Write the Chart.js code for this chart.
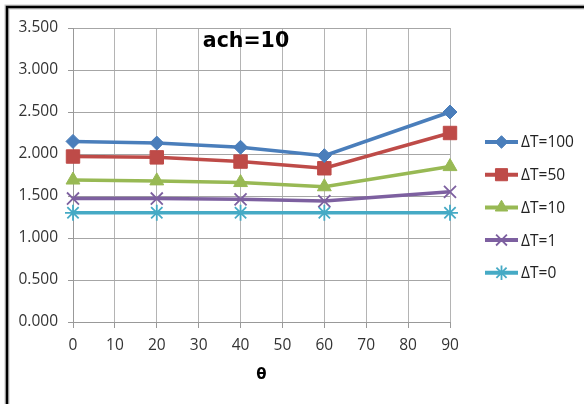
<!DOCTYPE html>
<html>
<head>
<meta charset="utf-8">
<script src="https://cdn.jsdelivr.net/npm/chart.js@4.4.1/dist/chart.umd.min.js"></script>
<style>
  html, body { margin: 0; padding: 0; background: #fff; overflow: hidden; }
  #wrap { width: 584px; height: 404px; }
  canvas { display: block; }
</style>
</head>
<body>
<div id="wrap"><canvas id="achChart"></canvas></div>
<script>
  // data
  const theta = [0, 20, 40, 60, 90];
  const dT100 = [2.15, 2.13, 2.08, 1.98, 2.50];
  const dT50 = [1.97, 1.96, 1.91, 1.83, 2.25];
  const dT10 = [1.69, 1.68, 1.66, 1.61, 1.85];
  const dT1 = [1.47, 1.47, 1.46, 1.44, 1.55];
  const dT0 = [1.30, 1.30, 1.30, 1.30, 1.30];
  const seriesLabels = ['ΔT=100', 'ΔT=50', 'ΔT=10', 'ΔT=1', 'ΔT=0'];
  const chartTitle = 'ach=10';
  const xTitle = 'θ';

  const toPoints = ys => theta.map((t, i) => ({ x: t, y: ys[i] }));

  const styles = [
    { color: '#4A7EBB', point: 'rectRot', radius: 7 },
    { color: '#BE4B48', point: 'rect', radius: 9.5 },
    { color: '#98B954', point: 'triangle', radius: 8 },
    { color: '#7D60A0', point: 'crossRot', radius: 8.5 },
    { color: '#46AAC5', point: 'star', radius: 8 },
  ];

  const allSeries = [dT100, dT50, dT10, dT1, dT0];

  const datasets = allSeries.map((ys, i) => ({
    label: seriesLabels[i],
    data: toPoints(ys),
    borderColor: styles[i].color,
    backgroundColor: styles[i].color,
    borderWidth: 3.5,
    pointStyle: styles[i].point,
    pointRadius: styles[i].radius,
    pointBorderWidth: (styles[i].point === 'crossRot' || styles[i].point === 'star') ? 1.8 : 1,
    pointBackgroundColor: styles[i].color,
    pointBorderColor: styles[i].color,
    tension: 0,
    clip: false,
  }));

  // frame + title + legend drawn on the canvas
  const extras = {
    id: 'extras',
    beforeDraw(chart) {
      const ctx = chart.ctx;
      ctx.save();
      ctx.fillStyle = '#fff';
      ctx.fillRect(0, 0, chart.width, chart.height);
      // only the left and top edges of the frame are in view
      ctx.strokeStyle = '#c8c8c8';
      ctx.lineWidth = 5;
      ctx.beginPath();
      ctx.moveTo(7, chart.height + 10);
      ctx.lineTo(7, 7);
      ctx.lineTo(chart.width + 10, 7);
      ctx.stroke();
      ctx.strokeStyle = '#000';
      ctx.lineWidth = 2.5;
      ctx.stroke();
      ctx.restore();
    },
    afterDraw(chart) {
      const ctx = chart.ctx;
      const area = chart.chartArea;
      ctx.save();
      // title inside plot
      ctx.fillStyle = '#000';
      ctx.font = 'bold 20.5px "DejaVu Sans"';
      ctx.textAlign = 'center';
      ctx.textBaseline = 'alphabetic';
      ctx.fillText(chartTitle, 246, 47);

      // legend
      const lx = area.right + 35;
      let ly = 142;
      ctx.font = '15.5px "Open Sans"';
      ctx.textAlign = 'left';
      ctx.textBaseline = 'middle';
      chart.data.datasets.forEach((ds, i) => {
        ctx.strokeStyle = ds.borderColor;
        ctx.lineWidth = 4;
        ctx.beginPath();
        ctx.moveTo(lx, ly);
        ctx.lineTo(lx + 33, ly);
        ctx.stroke();
        ctx.fillStyle = ds.backgroundColor;
        ctx.strokeStyle = ds.borderColor;
        ctx.lineWidth = ds.pointBorderWidth;
        Chart.helpers.drawPoint(ctx, {
          pointStyle: ds.pointStyle,
          radius: ds.pointRadius * 0.9,
          rotation: 0,
          borderWidth: ds.pointBorderWidth,
        }, lx + 16.5, ly);
        ctx.fillStyle = '#222';
        ctx.fillText(ds.label, lx + 36, ly + 1);
        ly += 32.7;
      });
      ctx.restore();
    }
  };

  const options = {
    responsive: true,
    maintainAspectRatio: false,
    animation: false,
    layout: { padding: { left: 0, top: 28, right: 134, bottom: 16 } },
    plugins: {
      legend: { display: false },
      title: { display: false },
      tooltip: { enabled: false },
    },
    scales: {
      x: {
        type: 'linear',
        min: 0,
        max: 90,
        ticks: {
          stepSize: 10,
          color: '#333',
          font: { family: 'Open Sans', size: 15.5 },
          padding: 8,
          maxRotation: 0,
        },
        grid: { color: '#B4B4B4', tickLength: 6, tickColor: '#999' },
        border: { color: '#999' },
        title: {
          display: true,
          text: xTitle,
          color: '#000',
          font: { family: 'DejaVu Sans', size: 15, weight: 'bold' },
          padding: { top: 6 },
        },
        afterFit(scale) { scale.height = 66; },
      },
      y: {
        min: 0,
        max: 3.5,
        ticks: {
          stepSize: 0.5,
          color: '#333',
          font: { family: 'Open Sans', size: 15.5 },
          padding: 10,
          callback: v => v.toFixed(3),
        },
        grid: { color: '#A6A6A6', tickLength: 5, tickColor: '#999' },
        border: { color: '#999' },
        afterFit(scale) { scale.width = 73; },
      },
    },
  };

  const achChart = new Chart(document.getElementById('achChart'), {
    type: 'line',
    data: { datasets: datasets },
    options: options,
    plugins: [extras],
  });
</script>
</body>
</html>
